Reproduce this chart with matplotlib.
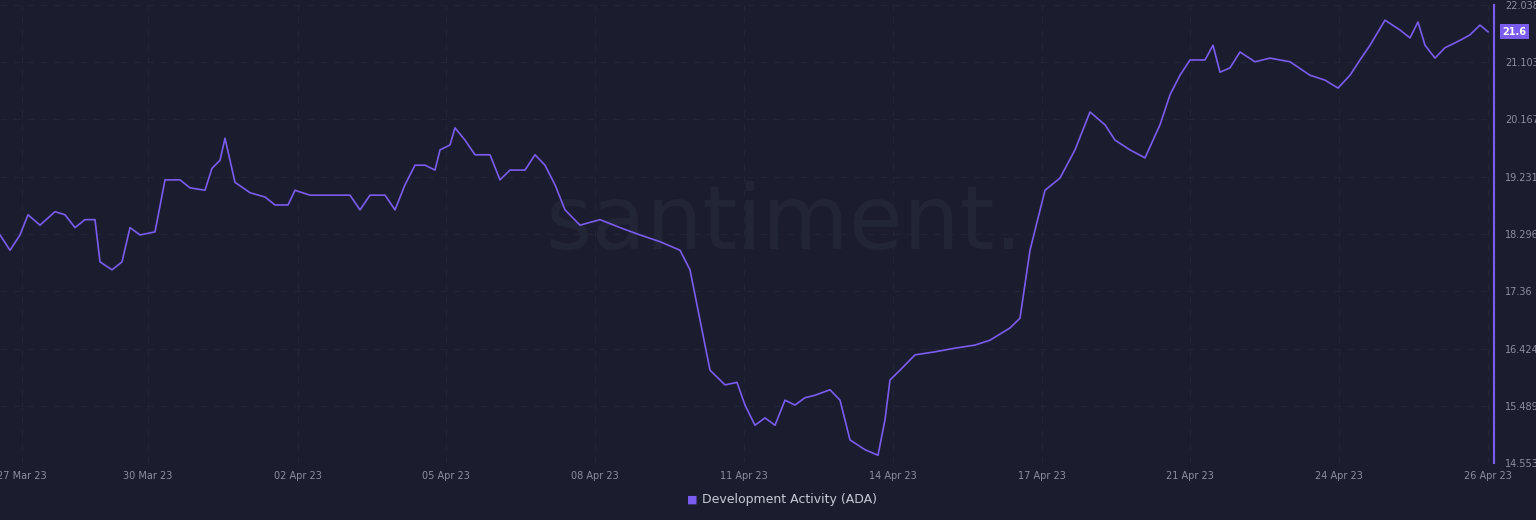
import matplotlib
matplotlib.use("Agg")
import matplotlib.pyplot as plt
import numpy as np

day_offsets = [0, 10, 20, 28, 40, 55, 65, 75, 85, 95, 100, 112, 122, 130, 140, 155, 165, 180, 190, 205,
               212, 220, 225, 235, 250, 265, 275, 288, 295, 310, 330, 350, 360, 370, 385, 395, 405, 415,
               425, 435, 440, 450, 455, 465, 475, 490, 500, 510, 525, 535, 545, 555, 565, 580, 600, 620,
               640, 660, 680, 690, 700, 710, 725, 737, 745, 755, 765, 775, 785, 795, 805, 815, 830, 840,
               850, 865, 878, 885, 890, 900, 915, 935, 955, 975, 990, 1010, 1020, 1030, 1045, 1060, 1075,
               1090, 1105, 1115, 1130, 1145, 1160, 1170, 1180, 1190, 1205, 1213, 1220, 1230, 1240, 1255,
               1270, 1290, 1310, 1325, 1338, 1350, 1360, 1370, 1385, 1400, 1410, 1418, 1425, 1435, 1445,
               1460, 1470, 1480, 1488]
values = [18.28, 18.03, 18.28, 18.61, 18.44, 18.66, 18.61, 18.40, 18.53, 18.53, 17.84, 17.71, 17.84, 18.40,
          18.28, 18.33, 19.18, 19.18, 19.05, 19.01, 19.37, 19.50, 19.86, 19.14, 18.97, 18.90, 18.77, 18.77,
          19.01, 18.93, 18.93, 18.93, 18.69, 18.93, 18.93, 18.69, 19.10, 19.42, 19.42, 19.34, 19.67, 19.75,
          20.03, 19.83, 19.59, 19.59, 19.18, 19.34, 19.34, 19.59, 19.42, 19.10, 18.69, 18.44, 18.53, 18.40,
          18.28, 18.17, 18.03, 17.71, 16.89, 16.07, 15.83, 15.87, 15.50, 15.17, 15.29, 15.17, 15.58, 15.50,
          15.62, 15.66, 15.75, 15.58, 14.93, 14.77, 14.68, 15.26, 15.91, 16.07, 16.32, 16.37, 16.43, 16.48,
          16.56, 16.76, 16.92, 18.03, 19.01, 19.21, 19.67, 20.29, 20.08, 19.83, 19.67, 19.54, 20.08, 20.57,
          20.89, 21.14, 21.14, 21.38, 20.94, 21.01, 21.27, 21.11, 21.17, 21.11, 20.89, 20.81, 20.68, 20.89,
          21.14, 21.38, 21.79, 21.63, 21.50, 21.76, 21.38, 21.17, 21.34, 21.46, 21.55, 21.71, 21.6]
yticks = [14.553, 15.489, 16.424, 17.36, 18.296, 19.231, 20.167, 21.103, 22.038]
xtick_pos = [22, 148, 298, 446, 595, 744, 893, 1042, 1190, 1339, 1488]
xtick_labels = ["27 Mar 23", "30 Mar 23", "02 Apr 23", "05 Apr 23", "08 Apr 23", "11 Apr 23",
                "14 Apr 23", "17 Apr 23", "21 Apr 23", "24 Apr 23", "26 Apr 23"]
last_label = "21.6"

bg = "#1b1d2e"
line_c = "#7b5cf0"
text_c = "#8b8fa3"

fig = plt.figure(figsize=(15.36, 5.2), dpi=100, facecolor=bg)
ax = fig.add_axes([0, 1 - 463 / 520, 1494 / 1536, 458 / 520])
ax.set_facecolor(bg)
ax.plot(day_offsets, values, color=line_c, lw=1.2)
ax.set_xlim(0, 1494)
ax.set_ylim(14.553, 22.038)
ax.yaxis.tick_right()
ax.set_yticks(yticks)
ax.set_yticklabels([f"{t:g}" for t in yticks])
ax.set_xticks(xtick_pos)
ax.set_xticklabels(xtick_labels)
ax.tick_params(colors=text_c, labelsize=7, length=0, pad=6)
ax.tick_params(axis="y", pad=8)
ax.grid(True, color="#22253a", ls=(0, (6, 6)), lw=0.8)
for s in ["top", "left", "bottom"]:
    ax.spines[s].set_visible(False)
ax.spines["right"].set_color(line_c)
ax.spines["right"].set_linewidth(1.5)
ax.text(0.525, 0.52, "santiment.", transform=ax.transAxes, fontsize=64, color="#222536",
        ha="center", va="center", zorder=0)
ax.annotate(last_label, xy=(1.0, values[-1]), xycoords=("axes fraction", "data"),
            xytext=(6, 0), textcoords="offset points", fontsize=7, color="white",
            ha="left", va="center", fontweight="bold",
            bbox=dict(boxstyle="square,pad=0.25", fc=line_c, ec="none"))
fig.text(0.4505, 0.04, "■", color=line_c, fontsize=8, ha="center", va="center")
fig.text(0.457, 0.04, "Development Activity (ADA)", color="#c8cad6", fontsize=9, ha="left", va="center")
fig.savefig("out.png", dpi=100, facecolor=bg)
